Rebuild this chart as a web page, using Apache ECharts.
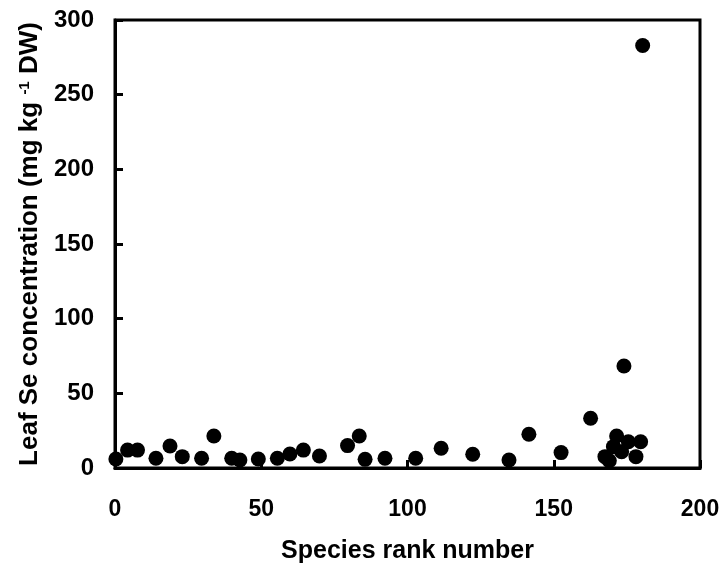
<!DOCTYPE html>
<html>
<head>
<meta charset="utf-8">
<script src="https://cdn.jsdelivr.net/npm/echarts@6/dist/echarts.min.js"></script>
<style>
  html, body { margin: 0; padding: 0; background: #fff; }
  #chart { width: 725px; height: 571px; }
</style>
</head>
<body>
<div id="chart"></div>
<script>
// species rank vs leaf Se (mg/kg DW)
const rankNumbers = [0.3, 4.3, 7.7, 14, 18.8, 23, 29.6, 33.8, 39.9, 42.7, 49, 55.5, 59.8, 64.4, 69.9,
  79.5, 83.5, 85.5, 92.3, 102.8, 111.5, 122.3, 134.7, 141.5, 152.5, 162.6, 167.5, 169, 170.4, 171.5,
  173.2, 174, 175.5, 178.1, 179.7, 180.4];
const seValues = [6, 12, 12, 6.5, 14.7, 7.6, 6.5, 21.4, 6.5, 5.4, 6, 6.5, 9.4, 12, 8,
  15, 21.4, 5.8, 6.5, 6.5, 13.2, 9.2, 5.4, 22.6, 10.3, 33.3, 7.6, 4.9, 14.3, 21.4,
  10.9, 68.3, 17.6, 7.6, 17.6, 282.9];
const xTicks = [0, 50, 100, 150, 200];
const yTicks = [0, 50, 100, 150, 200, 250, 300];

const points = rankNumbers.map((r, i) => [r, seValues[i]]);

const chart = echarts.init(document.getElementById('chart'));
const font = 'Liberation Sans, Arial, sans-serif';

chart.setOption({
  animation: false,
  grid: {
    left: 115, right: 25, top: 20, bottom: 103,
    show: true, borderColor: '#000', borderWidth: 3
  },
  xAxis: {
    type: 'value',
    min: xTicks[0], max: xTicks[xTicks.length - 1], interval: 50,
    name: 'Species rank number',
    nameLocation: 'middle',
    nameGap: 71,
    nameTextStyle: { fontFamily: font, fontWeight: 'bold', fontSize: 25, color: '#000' },
    axisLine: { lineStyle: { color: '#000', width: 3 } },
    axisTick: { inside: true, length: 8, lineStyle: { color: '#000', width: 3 } },
    axisLabel: { margin: 30, fontFamily: font, fontWeight: 'bold', fontSize: 23, color: '#000' },
    splitLine: { show: false }
  },
  yAxis: {
    type: 'value',
    min: yTicks[0], max: yTicks[yTicks.length - 1], interval: 50,
    name: 'Leaf Se concentration (mg kg {sup|-1} DW)',
    nameLocation: 'middle',
    nameGap: 71,
    nameTextStyle: {
      fontFamily: font, fontWeight: 'bold', fontSize: 26, color: '#000',
      rich: {
        sup: { fontFamily: font, fontWeight: 'bold', fontSize: 15, color: '#000', verticalAlign: 'top', padding: [0, 0, 10, 0] }
      }
    },
    axisLine: { show: true, lineStyle: { color: '#000', width: 3 } },
    axisTick: { show: true, inside: true, length: 8, lineStyle: { color: '#000', width: 3 } },
    axisLabel: { margin: 21, fontFamily: font, fontWeight: 'bold', fontSize: 24, color: '#000' },
    splitLine: { show: false }
  },
  series: [{
    type: 'scatter',
    data: points,
    symbol: 'circle',
    symbolSize: 15,
    itemStyle: { color: '#000', opacity: 1 }
  }]
});
</script>
</body>
</html>
